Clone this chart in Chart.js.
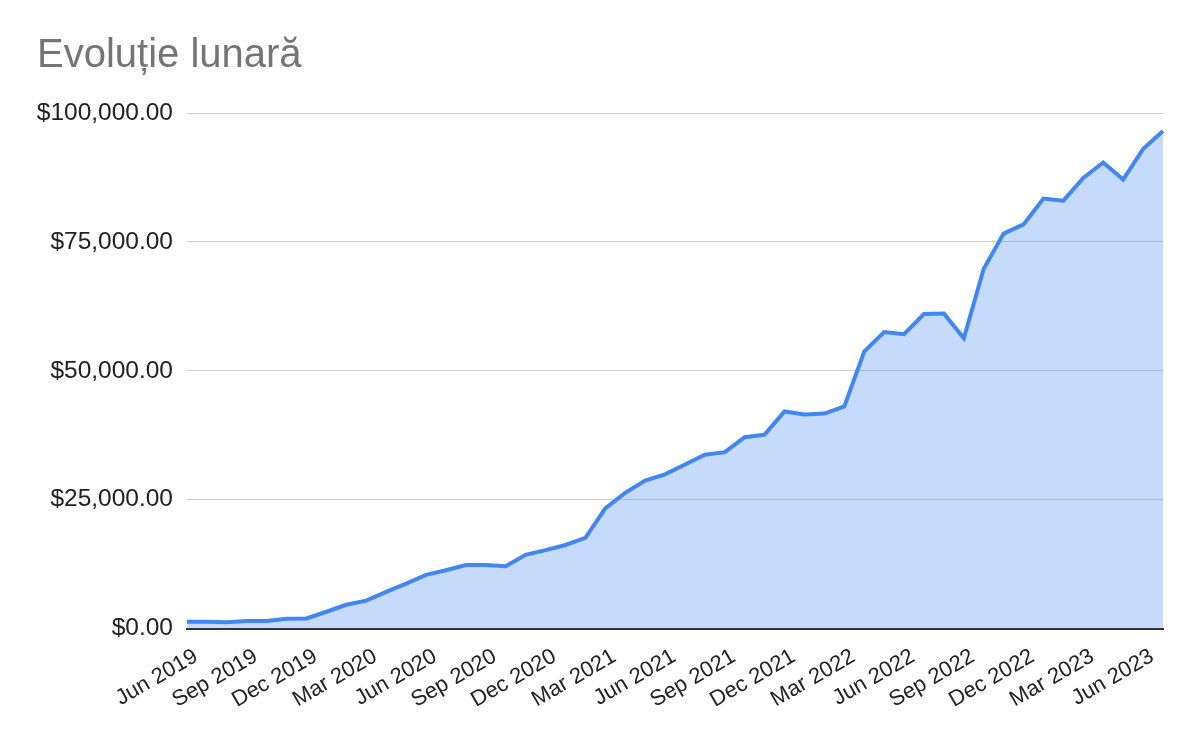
<!DOCTYPE html>
<html lang="ro">
<head>
    <meta charset="UTF-8">
    <title>Evoluție lunară</title>
    <script src="https://cdn.jsdelivr.net/npm/chart.js"></script>
    <style>
        body {
            margin: 0;
            padding: 0;
            background: #fff;
        }
        #wrap {
            width: 1200px;
            height: 742px;
            position: relative;
        }
    </style>
</head>
<body>

<div id="wrap">
    <canvas id="monthChart"></canvas>
</div>

<script>
    // months shown on the x axis (one point per month)
    const months = [
        'Jun 2019', 'Jul 2019', 'Aug 2019', 'Sep 2019', 'Oct 2019', 'Nov 2019', 'Dec 2019',
        'Jan 2020', 'Feb 2020', 'Mar 2020', 'Apr 2020', 'May 2020', 'Jun 2020', 'Jul 2020',
        'Aug 2020', 'Sep 2020', 'Oct 2020', 'Nov 2020', 'Dec 2020', 'Jan 2021', 'Feb 2021',
        'Mar 2021', 'Apr 2021', 'May 2021', 'Jun 2021', 'Jul 2021', 'Aug 2021', 'Sep 2021',
        'Oct 2021', 'Nov 2021', 'Dec 2021', 'Jan 2022', 'Feb 2022', 'Mar 2022', 'Apr 2022',
        'May 2022', 'Jun 2022', 'Jul 2022', 'Aug 2022', 'Sep 2022', 'Oct 2022', 'Nov 2022',
        'Dec 2022', 'Jan 2023', 'Feb 2023', 'Mar 2023', 'Apr 2023', 'May 2023', 'Jun 2023',
        'Jul 2023'
    ];

    // monthly values, in dollars
    const values = [
        1300, 1300, 1200, 1450, 1450, 1900, 1950,
        3250, 4600, 5400, 7100, 8700, 10400, 11300,
        12300, 12300, 12100, 14300, 15200, 16200, 17600,
        23300, 26300, 28700, 29900, 31800, 33700, 34200,
        37100, 37600, 42100, 41500, 41700, 43100, 53700,
        57500, 57100, 61000, 61100, 56300, 69800, 76600,
        78400, 83400, 83000, 87400, 90400, 87100, 93000,
        96500
    ];

    // y axis ticks
    const yTicks = [0, 25000, 50000, 75000, 100000];

    const fontFamily = '"Liberation Sans", Arial, sans-serif';

    const ctx = document.getElementById('monthChart').getContext('2d');

    const monthChart = new Chart(ctx, {
        type: 'line',
        data: {
            labels: months,
            datasets: [{
                label: 'Evoluție lunară',
                data: values,
                borderColor: '#4285F4',
                borderWidth: 4,
                backgroundColor: 'rgba(66,133,244,0.3)',
                fill: 'origin',
                tension: 0,
                pointRadius: 0,
                pointHoverRadius: 0
            }]
        },
        options: {
            responsive: true,
            maintainAspectRatio: false,
            devicePixelRatio: 1,
            animation: false,
            layout: {
                padding: { left: 37, right: 37, top: 0, bottom: 0 }
            },
            plugins: {
                legend: { display: false },
                tooltip: { enabled: false },
                title: {
                    display: true,
                    text: 'Evoluție lunară',
                    align: 'start',
                    color: '#757575',
                    font: { family: fontFamily, size: 40, weight: 'normal', lineHeight: 1.2 },
                    padding: { top: 32, bottom: 33 }
                }
            },
            scales: {
                x: {
                    offset: false,
                    grid: { drawOnChartArea: false, drawTicks: false },
                    border: { display: true, color: '#333333', width: 2 },
                    ticks: {
                        autoSkip: false,
                        maxRotation: 30,
                        minRotation: 30,
                        padding: 15,
                        labelOffset: 9,
                        color: '#222222',
                        font: { family: fontFamily, size: 22 },
                        callback: function (val, i) {
                            return i % 3 === 0 ? months[i] : '';
                        }
                    },
                    afterFit: function (scale) {
                        scale.height = 113.5;
                    }
                },
                y: {
                    min: 0,
                    max: 100000,
                    afterBuildTicks: function (scale) {
                        scale.ticks = yTicks.map(v => ({ value: v }));
                    },
                    grid: { color: '#cccccc', lineWidth: 1, drawTicks: false },
                    border: { display: false },
                    ticks: {
                        padding: 14,
                        color: '#222222',
                        font: { family: fontFamily, size: 24.5 },
                        callback: function (v) {
                            return '$' + v.toLocaleString('en-US', { minimumFractionDigits: 2, maximumFractionDigits: 2 });
                        }
                    },
                    afterFit: function (scale) {
                        scale.width = 150;
                    }
                }
            }
        }
    });
</script>

</body>
</html>
